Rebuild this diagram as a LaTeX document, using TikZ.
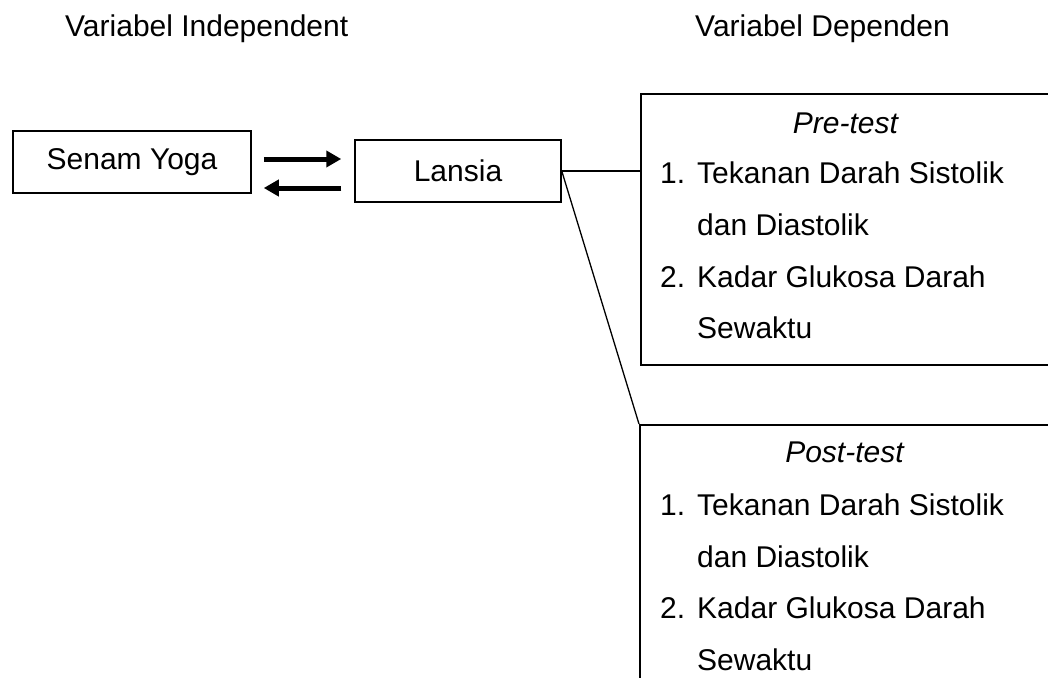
\documentclass[tikz,border=0pt]{standalone}
\usepackage{fontspec}
\setmainfont{Liberation Sans}
\usepackage{tikz}
\usetikzlibrary{arrows.meta,positioning,calc}

\begin{document}
\begin{tikzpicture}[x=1pt,y=-1pt,font=\fontsize{30}{36}\selectfont,
	box/.style={draw,line width=1.5pt,inner sep=0pt},
	txt/.style={inner sep=0pt,anchor=base west},
	arr/.style={line width=5pt,-{Triangle[length=15pt,width=16pt]}},
	link/.style={line width=1.3pt}]
	\useasboundingbox (0,0) rectangle (1048,677);
	\node [txt](indep_node) at (65,37) {Variabel Independent};
	\node [txt](dep_node) at (695,37) {Variabel Dependen};
	\node [box,minimum width=238pt,minimum height=62pt](yoga_node) at (132,162) {Senam Yoga};
	\node [box,minimum width=206pt,minimum height=62pt](lansia_node) at (458,171) {Lansia};
	\node [box,anchor=north west,minimum width=430pt,minimum height=271pt](pre_node) at (640,93) {};
	\node [box,anchor=north west,minimum width=430pt,minimum height=300pt](post_node) at (639,424) {};
	% pre-test
	\node [inner sep=0pt,anchor=base](pre_title) at (846,133) {\textit{Pre-test}};
	\node [txt](pre_one) at (660,183) {1.};
	\node [txt](pre_sys) at (697,183) {Tekanan Darah Sistolik};
	\node [txt](pre_dia) at (697,235) {dan Diastolik};
	\node [txt](pre_two) at (660,287) {2.};
	\node [txt](pre_glu) at (697,287) {Kadar Glukosa Darah};
	\node [txt](pre_sew) at (697,338) {Sewaktu};
	% post-test
	\node [inner sep=0pt,anchor=base](post_title) at (845,462) {\textit{Post-test}};
	\node [txt](post_one) at (660,515) {1.};
	\node [txt](post_sys) at (697,515) {Tekanan Darah Sistolik};
	\node [txt](post_dia) at (697,567) {dan Diastolik};
	\node [txt](post_two) at (660,618) {2.};
	\node [txt](post_glu) at (697,618) {Kadar Glukosa Darah};
	\node [txt](post_sew) at (697,670) {Sewaktu};
	\draw [arr, shorten <=12pt, shorten >=13pt] (yoga_node.east |- 0,159) -- (lansia_node.west |- 0,159);
	\draw [arr, shorten <=13pt, shorten >=12pt] (lansia_node.west |- 0,188) -- (yoga_node.east |- 0,188);
	\draw [link] (lansia_node.east) -- (pre_node.west |- lansia_node.east);
	\draw [link] (lansia_node.east) -- (post_node.north west);
\end{tikzpicture}
\end{document}
